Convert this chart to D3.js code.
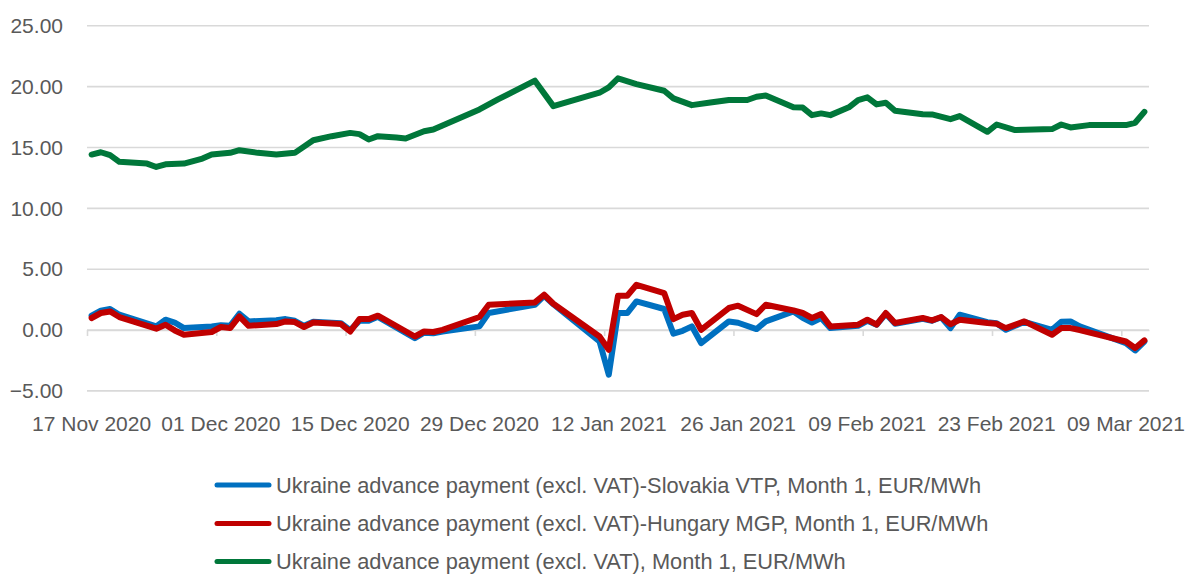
<!DOCTYPE html>
<html>
<head>
<meta charset="utf-8">
<script src="https://cdn.jsdelivr.net/npm/d3@7"></script>
<style>
	body { margin: 0; background: #fff; }
	svg text { font-family: "Liberation Sans", Arial, sans-serif; fill: #595959; }
</style>
</head>
<body>
<div id="graphique"></div>
<script>
"use strict";

// les données : dates des relevés, puis valeurs par série (EUR/MWh)
var ukraineDates = ["2020-11-17","2020-11-18","2020-11-19","2020-11-20","2020-11-23","2020-11-24","2020-11-25","2020-11-27","2020-11-29","2020-11-30",
	"2020-12-02","2020-12-03","2020-12-05","2020-12-07","2020-12-09","2020-12-11","2020-12-13","2020-12-15","2020-12-16","2020-12-17",
	"2020-12-18","2020-12-20","2020-12-21","2020-12-23","2020-12-24","2020-12-29","2020-12-31","2021-01-04","2021-01-06","2021-01-11",
	"2021-01-12","2021-01-13","2021-01-15","2021-01-18","2021-01-19","2021-01-21","2021-01-23","2021-01-25","2021-01-27","2021-01-28",
	"2021-01-29","2021-02-01","2021-02-02","2021-02-03","2021-02-04","2021-02-05","2021-02-07","2021-02-08","2021-02-09","2021-02-10",
	"2021-02-11","2021-02-12","2021-02-15","2021-02-16","2021-02-18","2021-02-19","2021-02-22","2021-02-23","2021-02-25","2021-03-01",
	"2021-03-02","2021-03-03","2021-03-05","2021-03-09","2021-03-10","2021-03-11"];
var ukraineValues = [14.42,14.61,14.37,13.82,13.68,13.40,13.62,13.68,14.09,14.42,
	14.56,14.78,14.56,14.42,14.56,15.60,15.93,16.20,16.10,15.66,
	15.93,15.82,15.74,16.34,16.48,18.13,18.95,20.49,18.40,19.50,
	19.94,20.68,20.21,19.66,19.04,18.48,18.70,18.90,18.90,19.17,
	19.28,18.30,18.28,17.66,17.80,17.66,18.30,18.90,19.12,18.54,
	18.68,18.02,17.74,17.72,17.33,17.58,16.29,16.89,16.43,16.51,
	16.89,16.65,16.84,16.84,17.03,17.93];

var borderDates = ["2020-11-17","2020-11-18","2020-11-19","2020-11-20","2020-11-24","2020-11-25","2020-11-26","2020-11-27","2020-11-30","2020-12-01",
	"2020-12-02","2020-12-03","2020-12-04","2020-12-07","2020-12-08","2020-12-09","2020-12-10","2020-12-11","2020-12-14","2020-12-15",
	"2020-12-16","2020-12-17","2020-12-18","2020-12-22","2020-12-23","2020-12-24","2020-12-25","2020-12-29","2020-12-30","2021-01-04",
	"2021-01-05","2021-01-06","2021-01-11","2021-01-12","2021-01-13","2021-01-14","2021-01-15","2021-01-18","2021-01-19","2021-01-20",
	"2021-01-21","2021-01-22","2021-01-25","2021-01-26","2021-01-28","2021-01-29","2021-02-01","2021-02-02","2021-02-03","2021-02-04",
	"2021-02-05","2021-02-08","2021-02-09","2021-02-10","2021-02-11","2021-02-12","2021-02-15","2021-02-16","2021-02-17","2021-02-18",
	"2021-02-19","2021-02-22","2021-02-23","2021-02-24","2021-02-26","2021-03-01","2021-03-02","2021-03-03","2021-03-04","2021-03-09",
	"2021-03-10","2021-03-11"];
var slovakiaValues = [1.18,1.59,1.73,1.26,0.30,0.85,0.62,0.16,0.30,0.39,
	0.35,1.34,0.71,0.80,0.90,0.76,0.35,0.68,0.56,0.00,
	0.76,0.76,1.09,-0.67,-0.22,-0.26,-0.12,0.30,1.40,2.08,
	2.82,2.12,-0.94,-3.67,1.40,1.40,2.35,1.73,-0.30,-0.06,
	0.30,-1.07,0.71,0.60,0.08,0.71,1.53,1.00,0.62,0.99,
	0.16,0.35,0.76,0.44,1.34,0.52,0.93,0.76,1.05,0.16,
	1.26,0.64,0.56,0.02,0.68,0.02,0.68,0.71,0.30,-1.07,
	-1.68,-0.94];
var hungaryValues = [0.99,1.40,1.53,1.07,0.11,0.44,-0.03,-0.39,-0.16,0.25,
	0.16,1.12,0.35,0.49,0.71,0.66,0.25,0.62,0.49,-0.12,
	0.90,0.90,1.18,-0.53,-0.12,-0.16,0.02,1.07,2.08,2.27,
	2.90,2.16,-0.53,-1.62,2.82,2.82,3.72,3.04,0.90,1.26,
	1.40,0.02,1.81,2.00,1.31,2.08,1.61,1.40,0.99,1.31,
	0.30,0.44,0.85,0.44,1.40,0.58,0.99,0.79,1.07,0.48,
	0.85,0.58,0.52,0.16,0.71,-0.39,0.16,0.16,0.00,-0.94,
	-1.48,-0.85];

var tickDates = ["2020-11-17","2020-12-01","2020-12-15","2020-12-29","2021-01-12","2021-01-26","2021-02-09","2021-02-23","2021-03-09"];
var yTicks = [-5, 0, 5, 10, 15, 20, 25];

var seriesNames = ["Ukraine advance payment (excl. VAT)-Slovakia VTP, Month 1, EUR/MWh",
	"Ukraine advance payment (excl. VAT)-Hungary MGP, Month 1, EUR/MWh",
	"Ukraine advance payment (excl. VAT), Month 1, EUR/MWh"];
var seriesColors = ["#0070c0", "#c00000", "#00773a"];


var lire = d3.utcParse("%Y-%m-%d"),
	ecrire = d3.utcFormat("%d %b %Y"),
	dims = { width: 1192, height: 575, left: 87, right: 1149, top: 25.8, bottom: 390.9 };

var x = d3.scaleUtc()
		.domain([lire("2020-11-17"), lire("2021-03-12")])
		.range([dims.left, dims.right]),
	y = d3.scaleLinear()
		.domain([-5, 25])
		.range([dims.bottom, dims.top]),
	demiJour = (x(lire("2020-11-18")) - x(lire("2020-11-17"))) / 2; // points au milieu du jour

var svg = d3.select("#graphique").append("svg")
		.attr("width", dims.width)
		.attr("height", dims.height)
		.attr("viewBox", "0 0 " + dims.width + " " + dims.height);

// les grilles
svg.append("g")
	.selectAll("line")
	.data(yTicks)
	.enter()
		.append("line")
		.attr("x1", dims.left)
		.attr("x2", dims.right)
		.attr("y1", d => y(d))
		.attr("y2", d => y(d))
		.attr("stroke", "#d9d9d9")
		.attr("stroke-width", 1.6);

// axe Y
svg.append("g")
	.attr("transform", "translate(" + dims.left + ",0)")
	.call(d3.axisLeft(y).tickValues(yTicks).tickFormat(d3.format(".2f")).tickSize(0).tickPadding(24))
	.call(g => g.select(".domain").remove())
	.selectAll("text")
		.attr("font-size", 21)
		.attr("font-family", null);

// axe X : traits sur la ligne du zéro, étiquettes en bas
svg.append("g")
	.attr("transform", "translate(0," + y(0) + ")")
	.call(d3.axisBottom(x).tickValues(tickDates.map(lire)).tickFormat("").tickSize(6).tickSizeOuter(0))
	.call(g => g.select(".domain").attr("stroke", "#d9d9d9").attr("stroke-width", 1.6))
	.call(g => g.selectAll(".tick line").attr("stroke", "#d9d9d9").attr("stroke-width", 1.6));

svg.append("g")
	.selectAll("text")
	.data(tickDates)
	.enter()
		.append("text")
		.attr("x", d => x(lire(d)) + demiJour)
		.attr("y", 431)
		.attr("text-anchor", "middle")
		.attr("font-size", 21)
		.text(d => ecrire(lire(d)));

// les courbes
var trace = d3.line()
		.x(d => x(d[0]) + demiJour)
		.y(d => y(d[1]));

var series = [
	{ dates: borderDates, valeurs: slovakiaValues, couleur: seriesColors[0] },
	{ dates: borderDates, valeurs: hungaryValues, couleur: seriesColors[1] },
	{ dates: ukraineDates, valeurs: ukraineValues, couleur: seriesColors[2] }
];

svg.append("g")
	.selectAll("path")
	.data([series[2], series[0], series[1]])
	.enter()
		.append("path")
		.attr("d", s => trace(s.dates.map((d, i) => [lire(d), s.valeurs[i]])))
		.attr("fill", "none")
		.attr("stroke", s => s.couleur)
		.attr("stroke-width", 6)
		.attr("stroke-linejoin", "round")
		.attr("stroke-linecap", "round");

// la légende
var legende = svg.append("g")
		.selectAll("g")
		.data(seriesNames)
		.enter()
			.append("g")
			.attr("transform", (d, i) => "translate(0," + [485, 523.5, 561.5][i] + ")");

legende.append("line")
	.attr("x1", 217)
	.attr("x2", 269)
	.attr("stroke", (d, i) => seriesColors[i])
	.attr("stroke-width", 5)
	.attr("stroke-linecap", "round");

legende.append("text")
	.attr("x", 276)
	.attr("dy", "0.35em")
	.attr("font-size", 21.8)
	.text(d => d);
</script>
</body>
</html>
